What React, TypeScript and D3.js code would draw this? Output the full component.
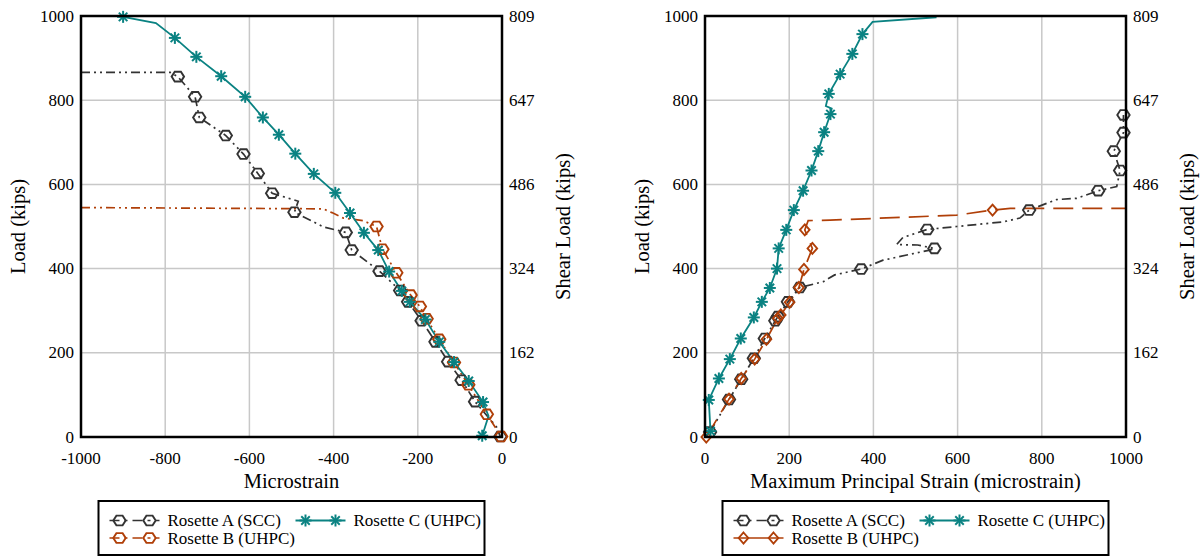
import React from "react";
import * as d3 from "d3";

// ---------- data ----------
const LOAD_TICKS = [0, 200, 400, 600, 800, 1000];
const SHEAR_TICK_LABELS = ["0", "162", "324", "486", "647", "809"];
const LEFT_X_TICKS = [-1000, -800, -600, -400, -200, 0];
const RIGHT_X_TICKS = [0, 200, 400, 600, 800, 1000];
const SERIES_NAMES = ["Rosette A (SCC)", "Rosette B (UHPC)", "Rosette C (UHPC)"];
const LEFT_X_TITLE = "Microstrain";
const RIGHT_X_TITLE = "Maximum Principal Strain (microstrain)";
const Y_TITLE = "Load (kips)";
const Y2_TITLE = "Shear Load (kips)";

// [strain, load, hasMarker]
const leftRosetteA: number[][] = [
  [-1000, 866, 0], [-788, 866, 0], [-770, 856, 1], [-729, 808, 1], [-719, 759, 1],
  [-656, 716, 1], [-614, 672, 1], [-580, 626, 1], [-546, 579, 1], [-484, 560, 0],
  [-493, 534, 1], [-424, 499, 0], [-371, 486, 1], [-357, 444, 1], [-291, 394, 1],
  [-242, 348, 1], [-223, 321, 1], [-191, 276, 1], [-158, 226, 1], [-128, 179, 1],
  [-96, 135, 1], [-64, 84, 1], [-13, 24, 0], [-4, 1, 1],
];
const leftRosetteB: number[][] = [
  [-1000, 545, 0], [-425, 542, 0], [-404, 533, 0], [-377, 520, 0], [-330, 514, 0],
  [-298, 500, 1], [-284, 446, 1], [-251, 390, 1], [-217, 337, 1], [-195, 310, 1],
  [-179, 281, 1], [-149, 232, 1], [-114, 177, 1], [-80, 124, 1], [-36, 54, 1], [-2, 1, 1],
];
const leftRosetteC: number[][] = [
  [-900, 998, 1], [-822, 983, 0], [-777, 948, 1], [-726, 903, 1], [-667, 857, 1],
  [-610, 808, 1], [-568, 759, 1], [-530, 718, 1], [-491, 673, 1], [-447, 625, 1],
  [-396, 580, 1], [-361, 532, 1], [-328, 485, 1], [-294, 444, 1], [-268, 393, 1],
  [-238, 347, 1], [-219, 321, 1], [-182, 279, 1], [-149, 226, 1], [-114, 178, 1],
  [-79, 133, 1], [-45, 83, 1], [-32, 50, 0], [-47, 3, 1],
];
const rightRosetteA: number[][] = [
  [12, 12, 1], [57, 89, 1], [86, 137, 1], [116, 187, 1], [142, 234, 1], [167, 276, 1],
  [173, 286, 1], [197, 321, 1], [225, 355, 1], [281, 369, 0], [308, 385, 0], [371, 399, 1],
  [423, 420, 0], [534, 444, 0], [545, 448, 1], [505, 456, 0], [455, 457, 0], [470, 474, 0],
  [528, 493, 1], [598, 500, 0], [708, 511, 0], [748, 520, 0], [770, 539, 1], [835, 564, 0],
  [883, 567, 0], [934, 585, 1], [978, 595, 0], [986, 633, 1], [971, 679, 1], [994, 723, 1],
  [994, 765, 1],
];
const rightRosetteB: number[][] = [
  [3, 0, 1], [57, 90, 1], [86, 139, 1], [118, 185, 1], [146, 232, 1], [173, 282, 1],
  [180, 290, 1], [201, 320, 1], [223, 355, 1], [235, 398, 1], [255, 448, 1], [237, 492, 1],
  [245, 514, 0], [297, 515, 0], [598, 527, 0], [683, 539, 1], [725, 543, 0], [1010, 543, 0],
];
const rightRosetteC: number[][] = [
  [13, 14, 1], [9, 88, 1], [33, 139, 1], [59, 185, 1], [85, 234, 1], [116, 284, 1],
  [135, 321, 1], [154, 354, 1], [171, 400, 1], [175, 448, 1], [193, 492, 1], [211, 539, 1],
  [233, 585, 1], [253, 633, 1], [269, 679, 1], [283, 724, 1], [298, 767, 1], [301, 780, 0],
  [287, 786, 0], [294, 815, 1], [321, 862, 1], [350, 910, 1], [374, 957, 1], [398, 986, 0],
  [550, 997, 0],
];

// ---------- styles ----------
const GREY = "#333333";
const ORANGE = "#b03f08";
const TEAL = "#0a8282";
const GRID = "#c8c8c8";
const FONT = "'Liberation Serif', 'Times New Roman', serif";
const DASH_DOT_DOT = "9,4,2,4,2,4";
const LONG_DASH = "20,9";
const TICK_FS = 17;
const TITLE_FS = 20.5;
const LEGEND_FS = 17;

const TOP = 16;
const BOTTOM = 437;

type Style = { color: string; dash: string | null; marker: "hex" | "star" | "diamond"; width: number };

const panels = [
  {
    id: "L",
    x0: 81,
    x1: 502,
    domain: [-1000, 0],
    ticks: LEFT_X_TICKS,
    title: LEFT_X_TITLE,
    series: [leftRosetteA, leftRosetteB, leftRosetteC],
    styles: [
      { color: GREY, dash: DASH_DOT_DOT, marker: "hex", width: 1.7 },
      { color: ORANGE, dash: DASH_DOT_DOT, marker: "hex", width: 1.7 },
      { color: TEAL, dash: null, marker: "star", width: 1.8 },
    ] as Style[],
  },
  {
    id: "R",
    x0: 705,
    x1: 1126,
    domain: [0, 1000],
    ticks: RIGHT_X_TICKS,
    title: RIGHT_X_TITLE,
    series: [rightRosetteA, rightRosetteB, rightRosetteC],
    styles: [
      { color: GREY, dash: DASH_DOT_DOT, marker: "hex", width: 1.7 },
      { color: ORANGE, dash: LONG_DASH, marker: "diamond", width: 1.7 },
      { color: TEAL, dash: null, marker: "star", width: 1.8 },
    ] as Style[],
  },
];

function Marker({ kind, x, y, color }: { kind: string; x: number; y: number; color: string }) {
  if (kind === "hex") {
    const r = 6.2;
    const pts = d3.range(6).map((k) => {
      const a = (Math.PI / 3) * k;
      return [x + r * Math.cos(a), y + r * 0.9 * Math.sin(a)];
    });
    return <polygon points={pts.map((p) => p.join(",")).join(" ")} fill="none" stroke={color} strokeWidth={1.9} />;
  }
  if (kind === "diamond") {
    const pts = [[x, y - 5.5], [x + 4.8, y], [x, y + 5.5], [x - 4.8, y]];
    return <polygon points={pts.map((p) => p.join(",")).join(" ")} fill="none" stroke={color} strokeWidth={1.9} />;
  }
  const r = 6;
  const angles = [0, 45, 90, 135];
  return (
    <g stroke={color} strokeWidth={2}>
      {angles.map((a) => {
        const rad = (a * Math.PI) / 180;
        const dx = r * Math.cos(rad);
        const dy = r * Math.sin(rad);
        return <line key={a} x1={x - dx} y1={y - dy} x2={x + dx} y2={y + dy} />;
      })}
    </g>
  );
}

function Panel({ p }: { p: (typeof panels)[number] }) {
  const x = d3.scaleLinear().domain(p.domain).range([p.x0, p.x1]);
  const y = d3.scaleLinear().domain([0, 1000]).range([BOTTOM, TOP]);
  const line = d3
    .line<number[]>()
    .x((d) => x(d[0]))
    .y((d) => y(d[1]));
  const clipId = "clip" + p.id;
  const cx = (p.x0 + p.x1) / 2;
  const cy = (TOP + BOTTOM) / 2;
  const legendLeft = cx - 193;
  const legendTop = 501;
  const legendBottom = 555;
  const row1 = 520.5;
  const row2 = 538;
  const legendItems = [
    { idx: 0, lx: legendLeft + 11, ly: row1 },
    { idx: 2, lx: legendLeft + 197, ly: row1 },
    { idx: 1, lx: legendLeft + 11, ly: row2 },
  ];
  return (
    <g>
      <defs>
        <clipPath id={clipId}>
          <rect x={p.x0} y={TOP} width={p.x1 - p.x0} height={BOTTOM - TOP} />
        </clipPath>
      </defs>
      {/* grid */}
      {p.ticks.map((t) => (
        <line key={"gx" + t} x1={x(t)} x2={x(t)} y1={TOP} y2={BOTTOM} stroke={GRID} strokeWidth={1.5} />
      ))}
      {LOAD_TICKS.map((t) => (
        <line key={"gy" + t} x1={p.x0} x2={p.x1} y1={y(t)} y2={y(t)} stroke={GRID} strokeWidth={1.5} />
      ))}
      {/* series */}
      <g clipPath={`url(#${clipId})`}>
        {p.series.map((s, i) => (
          <path
            key={"s" + i}
            d={line(s) || ""}
            fill="none"
            stroke={p.styles[i].color}
            strokeWidth={p.styles[i].width}
            strokeDasharray={p.styles[i].dash || undefined}
          />
        ))}
      </g>
      {p.series.map((s, i) =>
        s
          .filter((d) => d[2] === 1)
          .map((d, j) => (
            <Marker key={`m${i}-${j}`} kind={p.styles[i].marker} x={x(d[0])} y={y(d[1])} color={p.styles[i].color} />
          ))
      )}
      {/* frame */}
      <rect x={p.x0} y={TOP} width={p.x1 - p.x0} height={BOTTOM - TOP} fill="none" stroke="#000" strokeWidth={2.5} />
      {/* ticks */}
      {p.ticks.map((t) => (
        <text key={"tx" + t} x={x(t)} y={458} textAnchor="middle" dominantBaseline="central" fontSize={TICK_FS} fontFamily={FONT}>
          {t}
        </text>
      ))}
      {LOAD_TICKS.map((t) => (
        <text key={"ty" + t} x={p.x0 - 7} y={y(t)} textAnchor="end" dominantBaseline="central" fontSize={TICK_FS} fontFamily={FONT}>
          {t}
        </text>
      ))}
      {LOAD_TICKS.map((t, k) => (
        <text key={"ty2" + t} x={p.x1 + 7} y={y(t)} textAnchor="start" dominantBaseline="central" fontSize={TICK_FS} fontFamily={FONT}>
          {SHEAR_TICK_LABELS[k]}
        </text>
      ))}
      {/* titles */}
      <text x={cx} y={481} textAnchor="middle" dominantBaseline="central" fontSize={TITLE_FS} fontFamily={FONT}>
        {p.title}
      </text>
      <text
        transform={`translate(${p.x0 - 63},${cy}) rotate(-90)`}
        textAnchor="middle"
        dominantBaseline="central"
        fontSize={TITLE_FS}
        fontFamily={FONT}
      >
        {Y_TITLE}
      </text>
      <text
        transform={`translate(${p.x1 + 61},${cy}) rotate(-90)`}
        textAnchor="middle"
        dominantBaseline="central"
        fontSize={TITLE_FS}
        fontFamily={FONT}
      >
        {Y2_TITLE}
      </text>
      {/* legend */}
      <rect x={legendLeft} y={legendTop} width={386} height={legendBottom - legendTop} fill="#fff" stroke="#000" strokeWidth={2} />
      {legendItems.map((it) => {
        const st = p.styles[it.idx];
        return (
          <g key={"lg" + it.idx}>
            <line
              x1={it.lx}
              x2={it.lx + 50}
              y1={it.ly}
              y2={it.ly}
              stroke={st.color}
              strokeWidth={st.width}
              strokeDasharray={st.marker === "star" ? undefined : st.dash === LONG_DASH ? undefined : "10,5,3,5"}
            />
            <Marker kind={st.marker} x={it.lx + 10} y={it.ly} color={st.color} />
            <Marker kind={st.marker} x={it.lx + 40} y={it.ly} color={st.color} />
            <text x={it.lx + 58} y={it.ly} dominantBaseline="central" fontSize={LEGEND_FS} fontFamily={FONT}>
              {SERIES_NAMES[it.idx]}
            </text>
          </g>
        );
      })}
    </g>
  );
}

export default function App() {
  return (
    <svg width={1201} height={558} style={{ position: "absolute", left: 0, top: 0, background: "#fff" }}>
      <rect width={1201} height={558} fill="#fff" />
      {panels.map((p) => (
        <Panel key={p.id} p={p} />
      ))}
    </svg>
  );
}
